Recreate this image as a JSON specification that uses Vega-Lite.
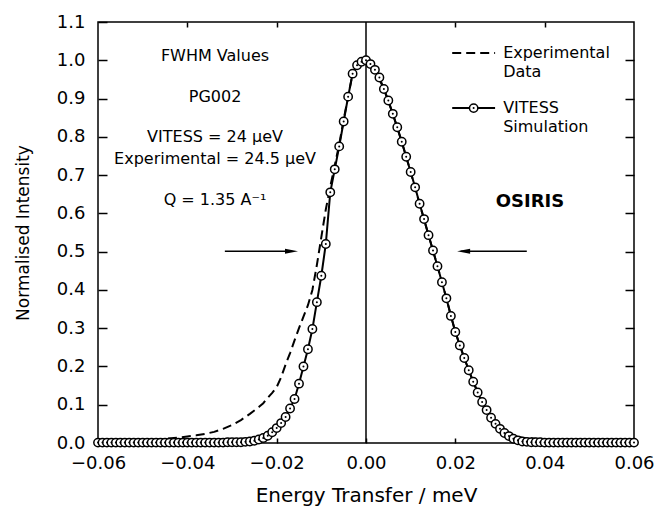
{
 "$schema": "https://vega.github.io/schema/vega-lite/v6.json",
 "width": 536,
 "height": 421,
 "autosize": {"type": "none"},
 "padding": {"left": 98, "top": 22, "right": 25, "bottom": 64},
 "background": "white",
 "config": {
  "view": {"stroke": "black", "strokeWidth": 1.5},
  "axis": {"domain": false, "grid": false, "tickColor": "black", "labelColor": "black", "titleColor": "black", "labelFont": "DejaVu Sans", "titleFont": "DejaVu Sans", "titleFontWeight": "normal", "tickWidth": 1.5, "labelFlush": false, "labelOverlap": false},
  "text": {"font": "DejaVu Sans", "color": "black"}
 },
 "datasets": {
  "sim": [
   {"x": -0.060, "y": 0.001}, {"x": -0.059, "y": 0.001}, {"x": -0.058, "y": 0.001}, {"x": -0.057, "y": 0.001}, {"x": -0.056, "y": 0.001},
   {"x": -0.055, "y": 0.001}, {"x": -0.054, "y": 0.001}, {"x": -0.053, "y": 0.001}, {"x": -0.052, "y": 0.001}, {"x": -0.051, "y": 0.001},
   {"x": -0.050, "y": 0.001}, {"x": -0.049, "y": 0.001}, {"x": -0.048, "y": 0.001}, {"x": -0.047, "y": 0.001}, {"x": -0.046, "y": 0.001},
   {"x": -0.045, "y": 0.001}, {"x": -0.044, "y": 0.001}, {"x": -0.043, "y": 0.001}, {"x": -0.042, "y": 0.001}, {"x": -0.041, "y": 0.001},
   {"x": -0.040, "y": 0.001}, {"x": -0.039, "y": 0.001}, {"x": -0.038, "y": 0.001}, {"x": -0.037, "y": 0.001}, {"x": -0.036, "y": 0.001},
   {"x": -0.035, "y": 0.001}, {"x": -0.034, "y": 0.001}, {"x": -0.033, "y": 0.001}, {"x": -0.032, "y": 0.001}, {"x": -0.031, "y": 0.002},
   {"x": -0.030, "y": 0.002}, {"x": -0.029, "y": 0.002}, {"x": -0.028, "y": 0.002}, {"x": -0.027, "y": 0.003}, {"x": -0.026, "y": 0.004},
   {"x": -0.025, "y": 0.006}, {"x": -0.024, "y": 0.009}, {"x": -0.023, "y": 0.013}, {"x": -0.022, "y": 0.019}, {"x": -0.021, "y": 0.028},
   {"x": -0.020, "y": 0.039}, {"x": -0.019, "y": 0.052}, {"x": -0.018, "y": 0.068}, {"x": -0.017, "y": 0.090}, {"x": -0.016, "y": 0.115},
   {"x": -0.015, "y": 0.155}, {"x": -0.014, "y": 0.200}, {"x": -0.013, "y": 0.245}, {"x": -0.012, "y": 0.298}, {"x": -0.011, "y": 0.368},
   {"x": -0.010, "y": 0.437}, {"x": -0.009, "y": 0.520}, {"x": -0.008, "y": 0.655}, {"x": -0.007, "y": 0.715}, {"x": -0.006, "y": 0.775},
   {"x": -0.005, "y": 0.840}, {"x": -0.004, "y": 0.905}, {"x": -0.003, "y": 0.965}, {"x": -0.002, "y": 0.987}, {"x": -0.001, "y": 0.996},
   {"x": 0.000, "y": 1.000},
   {"x": 0.001, "y": 0.990}, {"x": 0.002, "y": 0.975}, {"x": 0.003, "y": 0.955}, {"x": 0.004, "y": 0.925}, {"x": 0.005, "y": 0.895},
   {"x": 0.006, "y": 0.860}, {"x": 0.007, "y": 0.825}, {"x": 0.008, "y": 0.787}, {"x": 0.009, "y": 0.748}, {"x": 0.010, "y": 0.708},
   {"x": 0.011, "y": 0.668}, {"x": 0.012, "y": 0.625}, {"x": 0.013, "y": 0.585}, {"x": 0.014, "y": 0.543}, {"x": 0.015, "y": 0.503},
   {"x": 0.016, "y": 0.462}, {"x": 0.017, "y": 0.420}, {"x": 0.018, "y": 0.378}, {"x": 0.019, "y": 0.332}, {"x": 0.020, "y": 0.290},
   {"x": 0.021, "y": 0.255}, {"x": 0.022, "y": 0.222}, {"x": 0.023, "y": 0.190}, {"x": 0.024, "y": 0.160}, {"x": 0.025, "y": 0.132},
   {"x": 0.026, "y": 0.107}, {"x": 0.027, "y": 0.086}, {"x": 0.028, "y": 0.066}, {"x": 0.029, "y": 0.050}, {"x": 0.030, "y": 0.037},
   {"x": 0.031, "y": 0.026}, {"x": 0.032, "y": 0.018}, {"x": 0.033, "y": 0.011}, {"x": 0.034, "y": 0.007}, {"x": 0.035, "y": 0.004},
   {"x": 0.036, "y": 0.003}, {"x": 0.037, "y": 0.002}, {"x": 0.038, "y": 0.002}, {"x": 0.039, "y": 0.002}, {"x": 0.040, "y": 0.001},
   {"x": 0.041, "y": 0.001}, {"x": 0.042, "y": 0.001}, {"x": 0.043, "y": 0.001}, {"x": 0.044, "y": 0.001}, {"x": 0.045, "y": 0.001},
   {"x": 0.046, "y": 0.001}, {"x": 0.047, "y": 0.001}, {"x": 0.048, "y": 0.001}, {"x": 0.049, "y": 0.001}, {"x": 0.050, "y": 0.001},
   {"x": 0.051, "y": 0.001}, {"x": 0.052, "y": 0.001}, {"x": 0.053, "y": 0.001}, {"x": 0.054, "y": 0.001}, {"x": 0.055, "y": 0.001},
   {"x": 0.056, "y": 0.001}, {"x": 0.057, "y": 0.001}, {"x": 0.058, "y": 0.001}, {"x": 0.059, "y": 0.001}, {"x": 0.060, "y": 0.001}
  ],
  "exp": [
   {"x": -0.060, "y": 0.004}, {"x": -0.055, "y": 0.005}, {"x": -0.050, "y": 0.007}, {"x": -0.045, "y": 0.011}, {"x": -0.042, "y": 0.014},
   {"x": -0.040, "y": 0.017}, {"x": -0.038, "y": 0.020}, {"x": -0.036, "y": 0.024}, {"x": -0.034, "y": 0.029}, {"x": -0.032, "y": 0.037},
   {"x": -0.030, "y": 0.047}, {"x": -0.028, "y": 0.060}, {"x": -0.027, "y": 0.068}, {"x": -0.026, "y": 0.076}, {"x": -0.025, "y": 0.085},
   {"x": -0.024, "y": 0.094}, {"x": -0.023, "y": 0.104}, {"x": -0.022, "y": 0.118}, {"x": -0.021, "y": 0.131}, {"x": -0.020, "y": 0.146},
   {"x": -0.019, "y": 0.172}, {"x": -0.018, "y": 0.205}, {"x": -0.017, "y": 0.235}, {"x": -0.016, "y": 0.268}, {"x": -0.015, "y": 0.300},
   {"x": -0.014, "y": 0.330}, {"x": -0.013, "y": 0.360}, {"x": -0.012, "y": 0.400}, {"x": -0.011, "y": 0.465}, {"x": -0.010, "y": 0.538},
   {"x": -0.009, "y": 0.610}, {"x": -0.008, "y": 0.670}, {"x": -0.007, "y": 0.725}, {"x": -0.006, "y": 0.780}, {"x": -0.005, "y": 0.845},
   {"x": -0.004, "y": 0.905}, {"x": -0.003, "y": 0.965}, {"x": -0.002, "y": 0.987}, {"x": -0.001, "y": 0.996}, {"x": 0.000, "y": 1.000},
   {"x": 0.002, "y": 0.975}, {"x": 0.004, "y": 0.925}, {"x": 0.006, "y": 0.860}, {"x": 0.008, "y": 0.787}, {"x": 0.010, "y": 0.708},
   {"x": 0.012, "y": 0.625}, {"x": 0.014, "y": 0.543}, {"x": 0.016, "y": 0.462}, {"x": 0.018, "y": 0.378}, {"x": 0.020, "y": 0.290},
   {"x": 0.022, "y": 0.222}, {"x": 0.024, "y": 0.160}, {"x": 0.026, "y": 0.107}, {"x": 0.028, "y": 0.066}, {"x": 0.030, "y": 0.040},
   {"x": 0.031, "y": 0.030}, {"x": 0.032, "y": 0.024}, {"x": 0.033, "y": 0.019}, {"x": 0.034, "y": 0.016}, {"x": 0.035, "y": 0.014},
   {"x": 0.036, "y": 0.013}, {"x": 0.038, "y": 0.011}, {"x": 0.040, "y": 0.009}, {"x": 0.042, "y": 0.008}, {"x": 0.045, "y": 0.007},
   {"x": 0.050, "y": 0.005}, {"x": 0.055, "y": 0.004}, {"x": 0.060, "y": 0.003}
  ],
  "notes": [
   {"x": -0.0338, "y": 1.010, "label": "FWHM Values"},
   {"x": -0.0338, "y": 0.903, "label": "PG002"},
   {"x": -0.0338, "y": 0.799, "label": "VITESS = 24 μeV"},
   {"x": -0.0338, "y": 0.742, "label": "Experimental = 24.5 μeV"},
   {"x": -0.0338, "y": 0.635, "label": "Q = 1.35 A⁻¹"}
  ],
  "legendText": [
   {"x": 0.0307, "y": 1.019, "label": "Experimental"},
   {"x": 0.0307, "y": 0.969, "label": "Data"},
   {"x": 0.0307, "y": 0.875, "label": "VITESS"},
   {"x": 0.0307, "y": 0.825, "label": "Simulation"}
  ],
  "arrows": [
   {"x": -0.0316, "x2": -0.0165, "y": 0.501},
   {"x": 0.0360, "x2": 0.0212, "y": 0.501}
  ]
 },
 "layer": [
  {
   "data": {"values": [{"x": 0}]},
   "mark": {"type": "rule", "color": "black", "strokeWidth": 1.5},
   "encoding": {
    "x": {"field": "x", "type": "quantitative", "scale": {"domain": [-0.06, 0.06], "nice": false, "zero": false},
     "axis": {"orient": "bottom", "values": [-0.06, -0.04, -0.02, 0, 0.02, 0.04, 0.06], "format": ".2f", "tickSize": -5, "labelPadding": 16, "labelFontSize": 18, "title": "Energy Transfer / meV", "titleFontSize": 20, "titleX": 268, "titleY": 52, "titleBaseline": "middle"}}
   }
  },
  {
   "data": {"name": "exp"},
   "mark": {"type": "line", "color": "black", "strokeWidth": 2, "strokeDash": [9, 5]},
   "encoding": {
    "x": {"field": "x", "type": "quantitative", "scale": {"domain": [-0.06, 0.06], "nice": false, "zero": false}, "axis": null},
    "y": {"field": "y", "type": "quantitative", "scale": {"domain": [0, 1.1], "nice": false},
     "axis": {"orient": "left", "values": [0, 0.1, 0.2, 0.3, 0.4, 0.5, 0.6, 0.7, 0.8, 0.9, 1.0, 1.1], "format": ".1f", "tickSize": -9, "labelPadding": 22, "labelFontSize": 18, "title": "Normalised Intensity", "titleFontSize": 17, "titleX": -75, "titleY": 210.5, "titleBaseline": "middle"}}
   }
  },
  {
   "data": {"name": "sim"},
   "mark": {"type": "line", "color": "black", "strokeWidth": 2},
   "encoding": {
    "x": {"field": "x", "type": "quantitative", "scale": {"domain": [-0.06, 0.06], "nice": false, "zero": false}, "axis": null},
    "y": {"field": "y", "type": "quantitative", "scale": {"domain": [0, 1.1], "nice": false}, "axis": null}
   }
  },
  {
   "data": {"name": "sim"},
   "mark": {"type": "point", "shape": "circle", "filled": false, "fill": "white", "fillOpacity": 1, "stroke": "black", "strokeWidth": 1.5, "size": 70, "opacity": 1},
   "encoding": {
    "x": {"field": "x", "type": "quantitative", "scale": {"domain": [-0.06, 0.06], "nice": false, "zero": false}, "axis": null},
    "y": {"field": "y", "type": "quantitative", "scale": {"domain": [0, 1.1], "nice": false}, "axis": null}
   }
  },
  {
   "data": {"name": "sim"},
   "mark": {"type": "point", "shape": "circle", "filled": true, "color": "black", "size": 4, "opacity": 1},
   "encoding": {
    "x": {"field": "x", "type": "quantitative", "scale": {"domain": [-0.06, 0.06], "nice": false, "zero": false}, "axis": null},
    "y": {"field": "y", "type": "quantitative", "scale": {"domain": [0, 1.1], "nice": false}, "axis": null}
   }
  },
  {
   "data": {"name": "arrows"},
   "mark": {"type": "rule", "color": "black", "strokeWidth": 1.5},
   "encoding": {
    "x": {"field": "x", "type": "quantitative", "scale": {"domain": [-0.06, 0.06], "nice": false, "zero": false}, "axis": null},
    "x2": {"field": "x2"},
    "y": {"field": "y", "type": "quantitative", "scale": {"domain": [0, 1.1], "nice": false}, "axis": null}
   }
  },
  {
   "data": {"values": [{"x": -0.01668, "y": 0.501}]},
   "mark": {"type": "point", "shape": "M-1,-0.4L1,0L-1,0.4Z", "filled": true, "color": "black", "size": 169, "opacity": 1},
   "encoding": {
    "x": {"field": "x", "type": "quantitative", "scale": {"domain": [-0.06, 0.06], "nice": false, "zero": false}, "axis": null},
    "y": {"field": "y", "type": "quantitative", "scale": {"domain": [0, 1.1], "nice": false}, "axis": null}
   }
  },
  {
   "data": {"values": [{"x": 0.02185, "y": 0.501}]},
   "mark": {"type": "point", "shape": "M1,-0.4L-1,0L1,0.4Z", "filled": true, "color": "black", "size": 169, "opacity": 1},
   "encoding": {
    "x": {"field": "x", "type": "quantitative", "scale": {"domain": [-0.06, 0.06], "nice": false, "zero": false}, "axis": null},
    "y": {"field": "y", "type": "quantitative", "scale": {"domain": [0, 1.1], "nice": false}, "axis": null}
   }
  },
  {
   "data": {"name": "notes"},
   "mark": {"type": "text", "fontSize": 16, "align": "center", "baseline": "middle"},
   "encoding": {
    "x": {"field": "x", "type": "quantitative", "scale": {"domain": [-0.06, 0.06], "nice": false, "zero": false}, "axis": null},
    "y": {"field": "y", "type": "quantitative", "scale": {"domain": [0, 1.1], "nice": false}, "axis": null},
    "text": {"field": "label"}
   }
  },
  {
   "data": {"values": [{"x": 0.0367, "y": 0.629, "label": "OSIRIS"}]},
   "mark": {"type": "text", "fontSize": 18, "fontWeight": "bold", "align": "center", "baseline": "middle"},
   "encoding": {
    "x": {"field": "x", "type": "quantitative", "scale": {"domain": [-0.06, 0.06], "nice": false, "zero": false}, "axis": null},
    "y": {"field": "y", "type": "quantitative", "scale": {"domain": [0, 1.1], "nice": false}, "axis": null},
    "text": {"field": "label"}
   }
  },
  {
   "data": {"values": [{"x": 0.0193, "x2": 0.0289, "y": 1.019}]},
   "mark": {"type": "rule", "color": "black", "strokeWidth": 2, "strokeDash": [9, 5]},
   "encoding": {
    "x": {"field": "x", "type": "quantitative", "scale": {"domain": [-0.06, 0.06], "nice": false, "zero": false}, "axis": null},
    "x2": {"field": "x2"},
    "y": {"field": "y", "type": "quantitative", "scale": {"domain": [0, 1.1], "nice": false}, "axis": null}
   }
  },
  {
   "data": {"values": [{"x": 0.0193, "x2": 0.0289, "y": 0.875}]},
   "mark": {"type": "rule", "color": "black", "strokeWidth": 2},
   "encoding": {
    "x": {"field": "x", "type": "quantitative", "scale": {"domain": [-0.06, 0.06], "nice": false, "zero": false}, "axis": null},
    "x2": {"field": "x2"},
    "y": {"field": "y", "type": "quantitative", "scale": {"domain": [0, 1.1], "nice": false}, "axis": null}
   }
  },
  {
   "data": {"values": [{"x": 0.0241, "y": 0.875}]},
   "mark": {"type": "point", "shape": "circle", "filled": false, "fill": "white", "fillOpacity": 1, "stroke": "black", "strokeWidth": 1.5, "size": 70, "opacity": 1},
   "encoding": {
    "x": {"field": "x", "type": "quantitative", "scale": {"domain": [-0.06, 0.06], "nice": false, "zero": false}, "axis": null},
    "y": {"field": "y", "type": "quantitative", "scale": {"domain": [0, 1.1], "nice": false}, "axis": null}
   }
  },
  {
   "data": {"values": [{"x": 0.0241, "y": 0.875}]},
   "mark": {"type": "point", "shape": "circle", "filled": true, "color": "black", "size": 4, "opacity": 1},
   "encoding": {
    "x": {"field": "x", "type": "quantitative", "scale": {"domain": [-0.06, 0.06], "nice": false, "zero": false}, "axis": null},
    "y": {"field": "y", "type": "quantitative", "scale": {"domain": [0, 1.1], "nice": false}, "axis": null}
   }
  },
  {
   "data": {"name": "legendText"},
   "mark": {"type": "text", "fontSize": 16, "align": "left", "baseline": "middle"},
   "encoding": {
    "x": {"field": "x", "type": "quantitative", "scale": {"domain": [-0.06, 0.06], "nice": false, "zero": false}, "axis": null},
    "y": {"field": "y", "type": "quantitative", "scale": {"domain": [0, 1.1], "nice": false}, "axis": null},
    "text": {"field": "label"}
   }
  },
  {
   "data": {"values": [{"x": 0, "y": 0}]},
   "mark": {"type": "point", "opacity": 0},
   "encoding": {
    "x": {"field": "x", "type": "quantitative", "scale": {"domain": [-0.06, 0.06], "nice": false, "zero": false},
     "axis": {"orient": "top", "values": [-0.04, -0.02, 0.02, 0.04], "labels": false, "title": null, "tickSize": -5}},
    "y": {"field": "y", "type": "quantitative", "scale": {"domain": [0, 1.1], "nice": false},
     "axis": {"orient": "right", "values": [0.1, 0.2, 0.3, 0.4, 0.5, 0.6, 0.7, 0.8, 0.9, 1.0], "labels": false, "title": null, "tickSize": -9}}
   }
  }
 ],
 "resolve": {"axis": {"x": "independent", "y": "independent"}}
}
